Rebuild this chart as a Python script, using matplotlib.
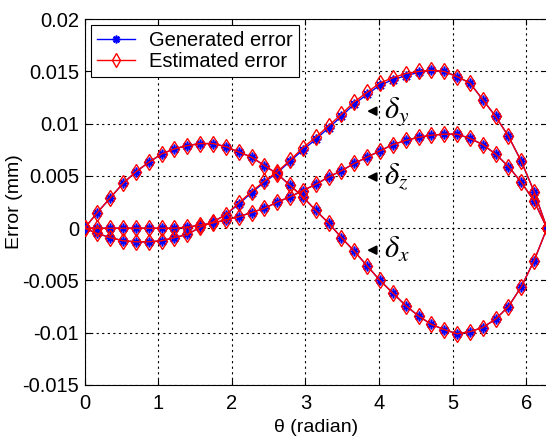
import numpy as np
import matplotlib
matplotlib.use('Agg')
import matplotlib.pyplot as plt

plt.rcParams['font.family'] = ['Liberation Sans', 'DejaVu Sans']
plt.rcParams['mathtext.fontset'] = 'stix'

# Angulos: 37 puntos cada 10 grados
theta = np.linspace(0, 2 * np.pi, 37)

# Error generado
gen_x = [0, 0.0015, 0.0029, 0.0043, 0.0054, 0.0063, 0.0071, 0.0076, 0.0079, 0.0081,
         0.0081, 0.0078, 0.0073, 0.0068, 0.0060, 0.0052, 0.0041, 0.0030, 0.0017, 0.0005,
         -0.0009, -0.0022, -0.0036, -0.0050, -0.0062, -0.0074, -0.0084, -0.0092, -0.0097,
         -0.0101, -0.0099, -0.0095, -0.0087, -0.0075, -0.0056, -0.0031, 0]
gen_y = [0, -0.0005, -0.0009, -0.0012, -0.0013, -0.0013, -0.0012, -0.0009, -0.0006, 0.0001,
         0.0006, 0.0013, 0.0023, 0.0034, 0.0044, 0.0053, 0.0064, 0.0075, 0.0085, 0.0096,
         0.0107, 0.0119, 0.0128, 0.0137, 0.0142, 0.0146, 0.0149, 0.0151, 0.0150,
         0.0145, 0.0139, 0.0123, 0.0107, 0.0088, 0.0064, 0.0035, 0]
gen_z = [0, 0, 0, 0, 0, 0, 0, 0, 0.0001, 0.0003,
         0.0005, 0.0008, 0.0011, 0.0015, 0.0019, 0.0025, 0.0030, 0.0036, 0.0042, 0.0049,
         0.0055, 0.0062, 0.0068, 0.0074, 0.0080, 0.0084, 0.0087, 0.0089, 0.0090,
         0.0090, 0.0086, 0.0080, 0.0071, 0.0059, 0.0044, 0.0026, 0]

# Error estimado (practicamente igual al generado)
est_x = [0, 0.0015, 0.0029, 0.0043, 0.0054, 0.0063, 0.0071, 0.0076, 0.0079, 0.0081,
         0.0081, 0.0078, 0.0073, 0.0068, 0.0060, 0.0052, 0.0041, 0.0030, 0.0017, 0.0005,
         -0.0009, -0.0022, -0.0036, -0.0050, -0.0062, -0.0074, -0.0084, -0.0092, -0.0097,
         -0.0101, -0.0099, -0.0095, -0.0087, -0.0075, -0.0056, -0.0031, 0]
est_y = [0, -0.0005, -0.0009, -0.0012, -0.0013, -0.0013, -0.0012, -0.0009, -0.0006, 0.0001,
         0.0006, 0.0013, 0.0024, 0.0035, 0.0045, 0.0054, 0.0065, 0.0077, 0.0087, 0.0098,
         0.0109, 0.0121, 0.0130, 0.0139, 0.0144, 0.0148, 0.0150, 0.0151, 0.0150,
         0.0145, 0.0139, 0.0123, 0.0107, 0.0088, 0.0064, 0.0035, 0]
est_z = [0, 0, 0, 0, 0, 0, 0, 0, 0.0001, 0.0003,
         0.0005, 0.0008, 0.0011, 0.0015, 0.0019, 0.0025, 0.0030, 0.0036, 0.0042, 0.0049,
         0.0055, 0.0062, 0.0068, 0.0074, 0.0080, 0.0084, 0.0087, 0.0089, 0.0090,
         0.0090, 0.0086, 0.0080, 0.0071, 0.0059, 0.0044, 0.0026, 0]

yticks = [0.02, 0.015, 0.01, 0.005, 0, -0.005, -0.01, -0.015]
ytick_labels = ['0.02', '0.015', '0.01', '0.005', '0', '-0.005', '-0.01', '-0.015']

fig = plt.figure(figsize=(5.46, 4.36), dpi=100)
ax = fig.add_axes([0.1548, 0.117, 0.847, 0.839])

star = (8, 2, 0)
for i, (g, e) in enumerate([(gen_x, est_x), (gen_y, est_y), (gen_z, est_z)]):
    ax.plot(theta, g, color='blue', lw=1, marker=star, ms=7, mew=1.2,
            label='Generated error' if i == 0 else None, zorder=3)
    ax.plot(theta, e, color='red', lw=1, marker='d', ms=8.5, mfc='none', mew=1,
            label='Estimated error' if i == 0 else None, zorder=4)

ax.set_xlim(0, 2 * np.pi)
ax.set_ylim(-0.015, 0.02)
ax.set_xticks(range(7))
ax.set_yticks(yticks)
ax.set_yticklabels(ytick_labels)
ax.tick_params(direction='in', top=True, right=True, labelsize=14.5, length=4)
ax.tick_params(axis='x', pad=6.5)
ax.tick_params(axis='y', pad=4)
ax.grid(True, color='black', linestyle=(0, (2, 3)), lw=0.8)
ax.set_xlabel('θ (radian)', fontsize=14, labelpad=4)
ax.set_ylabel('Error (mm)', fontsize=14, va='center')
ax.yaxis.set_label_coords(-0.152, 0.5)

# Etiquetas con flechas
for name, yv in [(r'$\delta_y$', 0.0112), (r'$\delta_z$', 0.0049), (r'$\delta_x$', -0.0021)]:
    ax.annotate('', xy=(3.80, yv), xytext=(4.00, yv),
                arrowprops=dict(arrowstyle='-|>', color='black', lw=1.5, mutation_scale=13))
    ax.text(4.07, yv, name, fontsize=22, va='center', ha='left')

leg = ax.legend(loc='upper left', bbox_to_anchor=(90.7 / 546, 1 - 25 / 436),
                bbox_transform=fig.transFigure, borderaxespad=0, fontsize=14.5,
                numpoints=1, fancybox=False, framealpha=1, edgecolor='black',
                borderpad=0.3, labelspacing=0.1, handlelength=1.9, handletextpad=0.7,
                markerscale=0.8)
leg.get_frame().set_linewidth(0.8)

fig.savefig('out.png', dpi=100)
